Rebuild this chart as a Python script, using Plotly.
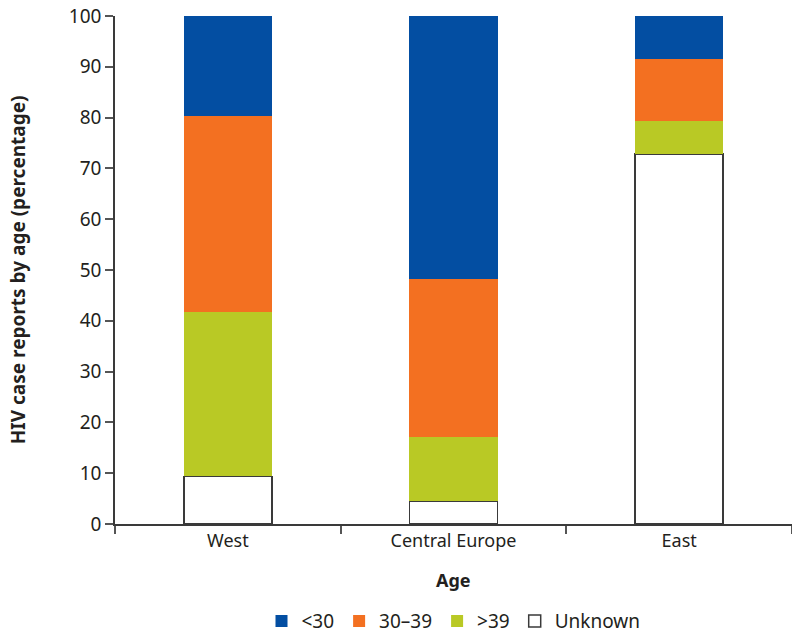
import plotly.graph_objects as go

regions = ["West", "Central Europe", "East"]
series_names = ["Unknown", ">39", "30–39", "<30"]
unknown = [9.4, 4.5, 72.8]
over39 = [32.3, 12.6, 6.5]
age30_39 = [38.6, 31.1, 12.2]
under30 = [19.7, 51.8, 8.5]
tick_vals = [0, 10, 20, 30, 40, 50, 60, 70, 80, 90, 100]

colors = {"<30": "#034EA2", "30–39": "#F37021", ">39": "#B9C925", "Unknown": "#FFFFFF"}
values = {"Unknown": unknown, ">39": over39, "30–39": age30_39, "<30": under30}

fig = go.Figure()
for name in series_names:
    line = dict(color="#3a3a3a", width=1.5) if name == "Unknown" else dict(width=0)
    fig.add_trace(go.Bar(
        x=regions, y=values[name], name=name, width=0.39,
        marker=dict(color=colors[name], line=line),
    ))

font_family = "Noto Sans, Open Sans, sans-serif"
fig.update_layout(
    barmode="stack",
    width=792, height=633,
    margin=dict(l=115, r=0, t=16, b=109, autoexpand=False),
    paper_bgcolor="white", plot_bgcolor="white",
    font=dict(family=font_family, size=18, color="#231F20"),
    showlegend=True,
    legend=dict(orientation="h", x=0.5, xanchor="center", xref="paper",
                y=-0.191, yanchor="middle", traceorder="reversed",
                font=dict(size=19), itemwidth=30),
    xaxis=dict(
        range=[-0.5, 2.5], showline=True, linecolor="#3a3a3a", linewidth=1.5,
        ticks="outside", tickson="boundaries", ticklen=8, tickcolor="#555",
        tickwidth=1.5, automargin=False, ticklabeloverflow="allow",
        tickfont=dict(size=18), showgrid=False, zeroline=False,
    ),
    yaxis=dict(
        range=[0, 100], tickvals=tick_vals, showline=True, linecolor="#3a3a3a",
        linewidth=1.5, ticks="outside", ticklen=8, tickcolor="#555", tickwidth=1.5,
        automargin=False, ticklabeloverflow="allow",
        tickfont=dict(size=19), showgrid=False, zeroline=False,
    ),
    annotations=[
        dict(text="<b>HIV case reports by age (percentage)</b>", textangle=-90,
             xref="paper", yref="paper", x=-0.143, y=0.5, xanchor="center", yanchor="middle",
             showarrow=False, font=dict(size=19)),
        dict(text="<b>Age</b>", xref="paper", yref="paper", x=0.5, y=-0.110,
             xanchor="center", yanchor="middle", showarrow=False, font=dict(size=18)),
    ],
)

fig.write_html("out.html", config={"displayModeBar": False},
               post_script="document.body.style.margin='0';document.body.style.overflow='hidden';")
